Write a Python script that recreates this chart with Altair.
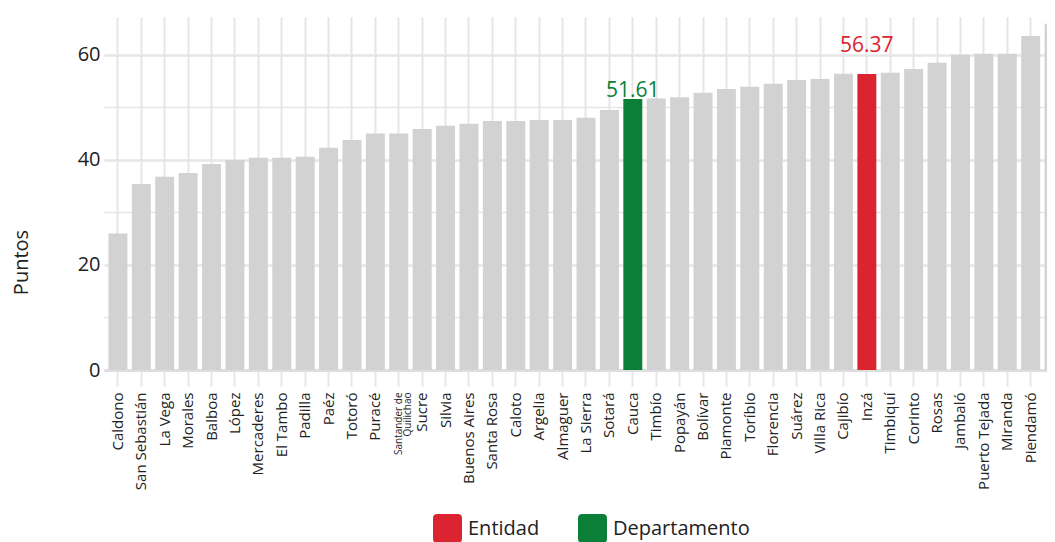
import altair as alt
import pandas as pd

municipios = ["Caldono", "San Sebastián", "La Vega", "Morales", "Balboa", "López", "Mercaderes",
              "El Tambo", "Padilla", "Paéz", "Totoró", "Puracé", "Santander de Quilichao", "Sucre",
              "Silvia", "Buenos Aires", "Santa Rosa", "Caloto", "Argelia", "Almaguer", "La Sierra",
              "Sotará", "Cauca", "Timbío", "Popayán", "Bolívar", "Piamonte", "Toríbio", "Florencia",
              "Suárez", "Villa Rica", "Cajibío", "Inzá", "Timbiquí", "Corinto", "Rosas", "Jambaló",
              "Puerto Tejada", "Miranda", "Piendamó", "Guachené"]
puntos = [26.0, 35.4, 36.8, 37.5, 39.2, 40.0, 40.4, 40.4, 40.6, 42.3, 43.8, 45.0, 45.0, 45.9,
          46.5, 46.9, 47.4, 47.4, 47.6, 47.6, 48.0, 49.5, 51.61, 51.7, 51.9, 52.8, 53.5, 53.9,
          54.5, 55.2, 55.4, 56.4, 56.37, 56.6, 57.3, 58.5, 60.0, 60.2, 60.2, 63.6, 65.9]
tipo = ["Otro"] * len(municipios)
tipo[municipios.index("Inzá")] = "Entidad"
tipo[municipios.index("Cauca")] = "Departamento"

legend_names = ["Entidad", "Departamento"]
legend_colors = ["#dc2430", "#0b7f37"]

df = pd.DataFrame({"municipio": municipios, "puntos": puntos, "tipo": tipo})

FONT = "Open Sans"
GRID = "#e6e6e6"
rounded = ("M -0.7,-1 L 0.7,-1 Q 1,-1 1,-0.7 L 1,0.7 Q 1,1 0.7,1 L -0.7,1 "
           "Q -1,1 -1,0.7 L -1,-0.7 Q -1,-1 -0.7,-1 Z")

x = alt.X("municipio:N", sort=municipios, title=None,
          scale=alt.Scale(paddingInner=0.19, paddingOuter=0.19, range=[0, 964]),
          axis=alt.Axis(labelAngle=-90, labelFont=FONT, labelColor="#222222",
                        labelFontSize={"condition": {"test": "datum.value == 'Santander de Quilichao'", "value": 10}, "value": 15},
                        labelExpr="datum.value == 'Santander de Quilichao' ? ['Santander de', 'Quilichao'] : datum.label",
                        labelLineHeight=9,
                        grid=True, gridColor=GRID, gridWidth=2, bandPosition=0.5,
                        ticks=True, tickColor=GRID, tickWidth=2, tickSize=16,
                        labelPadding=6, domain=True, domainColor="#dedede", domainWidth=3,
                        labelOverlap=False))

y_scale = alt.Scale(domain=[0, 67.2], nice=False, zero=True)

bars = alt.Chart(df).mark_bar(clip=True).encode(
    x=x,
    y=alt.Y("puntos:Q", scale=y_scale, title="Puntos",
            axis=alt.Axis(values=[0, 10, 20, 30, 40, 50, 60],
                          labelExpr="datum.value % 20 == 0 ? datum.label : ''",
                          labelFont=FONT, labelFontSize=20, labelColor="#222222",
                          labelPadding=4, ticks=False, domain=False,
                          gridColor=GRID,
                          gridWidth={"condition": {"test": "datum.value % 20 == 0", "value": 2.5}, "value": 1.5},
                          titleFont=FONT, titleFontSize=20, titleFontWeight="normal",
                          titleColor="#222222", titleAngle=-90, titleX=-93, titleY=245,
                          titleAlign="center", titleBaseline="top")),
    color=alt.condition(
        "datum.tipo != 'Otro'",
        alt.Color("tipo:N", scale=alt.Scale(domain=legend_names, range=legend_colors),
                  legend=alt.Legend(title=None, orient="none", direction="horizontal",
                                    legendX=329, legendY=497, padding=0,
                                    symbolType=rounded, symbolSize=841, symbolStrokeWidth=0,
                                    symbolOpacity=1, labelFont=FONT, labelFontSize=20,
                                    labelColor="#222222", labelOffset=6, columnPadding=38)),
        alt.value("#d2d2d2")),
)

lab_dep = alt.Chart(df).transform_filter("datum.tipo == 'Departamento'").mark_text(
    font=FONT, fontSize=21, baseline="alphabetic", dy=-2, color="#0b7f37"
).encode(x=x, y=alt.Y("puntos:Q", scale=y_scale), text=alt.Text("puntos:Q", format=".2f"))

lab_ent = alt.Chart(df).transform_filter("datum.tipo == 'Entidad'").mark_text(
    font=FONT, fontSize=21, baseline="alphabetic", dy=-22, color="#dc2430"
).encode(x=x, y=alt.Y("puntos:Q", scale=y_scale), text=alt.Text("puntos:Q", format=".2f"))

chart = alt.layer(bars, lab_dep, lab_ent).properties(
    width=943, height=353,
    autosize=alt.AutoSizeParams(type="none"),
    padding={"left": 96, "top": 9, "right": 0, "bottom": 172},
).configure_view(stroke=None)

chart.save("out.html", embed_options={"renderer": "svg", "actions": False})
